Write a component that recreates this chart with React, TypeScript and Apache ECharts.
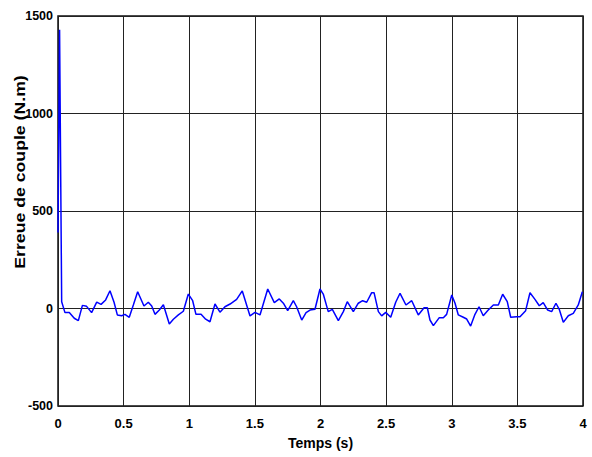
import React, { useEffect, useRef } from "react";
import * as echarts from "echarts";

const times = [
  0, 0.012, 0.028, 0.053, 0.086, 0.124, 0.155, 0.186, 0.218, 0.256, 0.295, 0.328, 0.363, 0.396, 0.427, 0.452, 0.485,
  0.51, 0.543, 0.574, 0.607, 0.655, 0.688, 0.714, 0.739, 0.772, 0.803, 0.848, 0.879, 0.917, 0.955, 0.993, 1.026,
  1.051, 1.09, 1.125, 1.158, 1.196, 1.234, 1.272, 1.311, 1.361, 1.404, 1.463, 1.501, 1.539, 1.598, 1.648, 1.686,
  1.717, 1.75, 1.793, 1.818, 1.857, 1.89, 1.92, 1.958, 1.996, 2.021, 2.059, 2.09, 2.136, 2.174, 2.204, 2.25, 2.288,
  2.321, 2.352, 2.39, 2.408, 2.441, 2.466, 2.497, 2.535, 2.573, 2.606, 2.651, 2.695, 2.745, 2.789, 2.814, 2.834,
  2.86, 2.905, 2.936, 2.961, 3.0, 3.025, 3.05, 3.088, 3.114, 3.144, 3.177, 3.208, 3.24, 3.278, 3.317, 3.355, 3.388,
  3.423, 3.449, 3.494, 3.52, 3.563, 3.596, 3.634, 3.667, 3.697, 3.731, 3.761, 3.794, 3.819, 3.85, 3.888, 3.926,
  3.964, 3.995,
];
const torqueError = [
  390, 1430, 35, -21, -20, -50, -62, 16, 11, -21, 33, 21, 44, 91, 32, -33, -37, -30, -45, 18, 86, 13, 32, 13, -30,
  -8, 19, -79, -55, -33, -14, 74, 40, -30, -30, -55, -68, 23, -19, 9, 23, 47, 90, -38, -20, -33, 100, 30, 49, 27,
  -11, 40, 9, -59, -21, -8, -4, 100, 74, -16, -4, -62, -16, 35, -16, 27, 40, 32, 81, 81, -16, -38, -20, -45, 32, 78,
  18, 40, -33, 4, 4, -59, -88, -47, -47, -30, 69, 27, -33, -45, -54, -90, -30, 9, -37, -8, 18, 18, 73, 35, -45, -42,
  -42, -11, 81, 47, 14, 30, -8, -16, 27, -4, -71, -37, -25, 18, 86,
];
const xTicks = [0, 0.5, 1, 1.5, 2, 2.5, 3, 3.5, 4];
const yTicks = [-500, 0, 500, 1000, 1500];
const xTitle = "Temps (s)";
const yTitle = "Erreue de couple (N.m)";

const labelFont = "'Liberation Sans Narrow', 'Liberation Sans', Arial, sans-serif";
const titleFont = "'Liberation Sans', Arial, sans-serif";

export default function App() {
  const ref = useRef<HTMLDivElement>(null);
  useEffect(() => {
    if (!ref.current) return;
    const chart = echarts.init(ref.current, null, { renderer: "svg" });
    chart.setOption({
      animation: false,
      backgroundColor: "#ffffff",
      grid: {
        left: 58,
        right: 9,
        top: 16,
        bottom: 51,
        show: true,
        borderColor: "#111",
        borderWidth: 1.5,
        outerBoundsMode: "none",
        containLabel: false,
      },
      graphic: [
        {
          type: "text",
          x: 20,
          y: 172,
          rotation: Math.PI / 2,
          scaleX: 1.22,
          style: {
            text: yTitle,
            fontFamily: titleFont,
            fontWeight: "bold",
            fontSize: 14.5,
            fill: "#000",
            align: "center",
            verticalAlign: "middle",
          },
        },
      ],
      xAxis: {
        type: "value",
        min: 0,
        max: 4,
        interval: 0.5,
        name: xTitle,
        nameLocation: "middle",
        nameGap: 30,
        nameTextStyle: { fontFamily: labelFont, fontWeight: "bold", fontSize: 14, color: "#000" },
        axisLine: { show: false },
        axisTick: { show: false },
        axisLabel: {
          fontFamily: labelFont,
          fontWeight: "bold",
          fontSize: 13,
          color: "#000",
          margin: 11,
          formatter: (v: number) => (xTicks.includes(v) ? String(v) : ""),
        },
        splitLine: { show: true, lineStyle: { color: "#222", width: 1 } },
      },
      yAxis: {
        type: "value",
        min: -500,
        max: 1500,
        interval: 500,
        axisLine: { show: false },
        axisTick: { show: false },
        axisLabel: {
          fontFamily: labelFont,
          fontWeight: "bold",
          fontSize: 12.5,
          color: "#000",
          margin: 5,
          formatter: (v: number) => (yTicks.includes(v) ? String(v) : ""),
        },
        splitLine: { show: true, lineStyle: { color: "#222", width: 1 } },
      },
      series: [
        {
          type: "line",
          data: times.map((t, i) => [t, torqueError[i]]),
          showSymbol: false,
          lineStyle: { color: "#0000ff", width: 1.5 },
          itemStyle: { color: "#0000ff" },
        },
      ],
    });
    return () => chart.dispose();
  }, []);
  return <div ref={ref} style={{ width: 592, height: 457, position: "absolute", left: 0, top: 0 }} />;
}
